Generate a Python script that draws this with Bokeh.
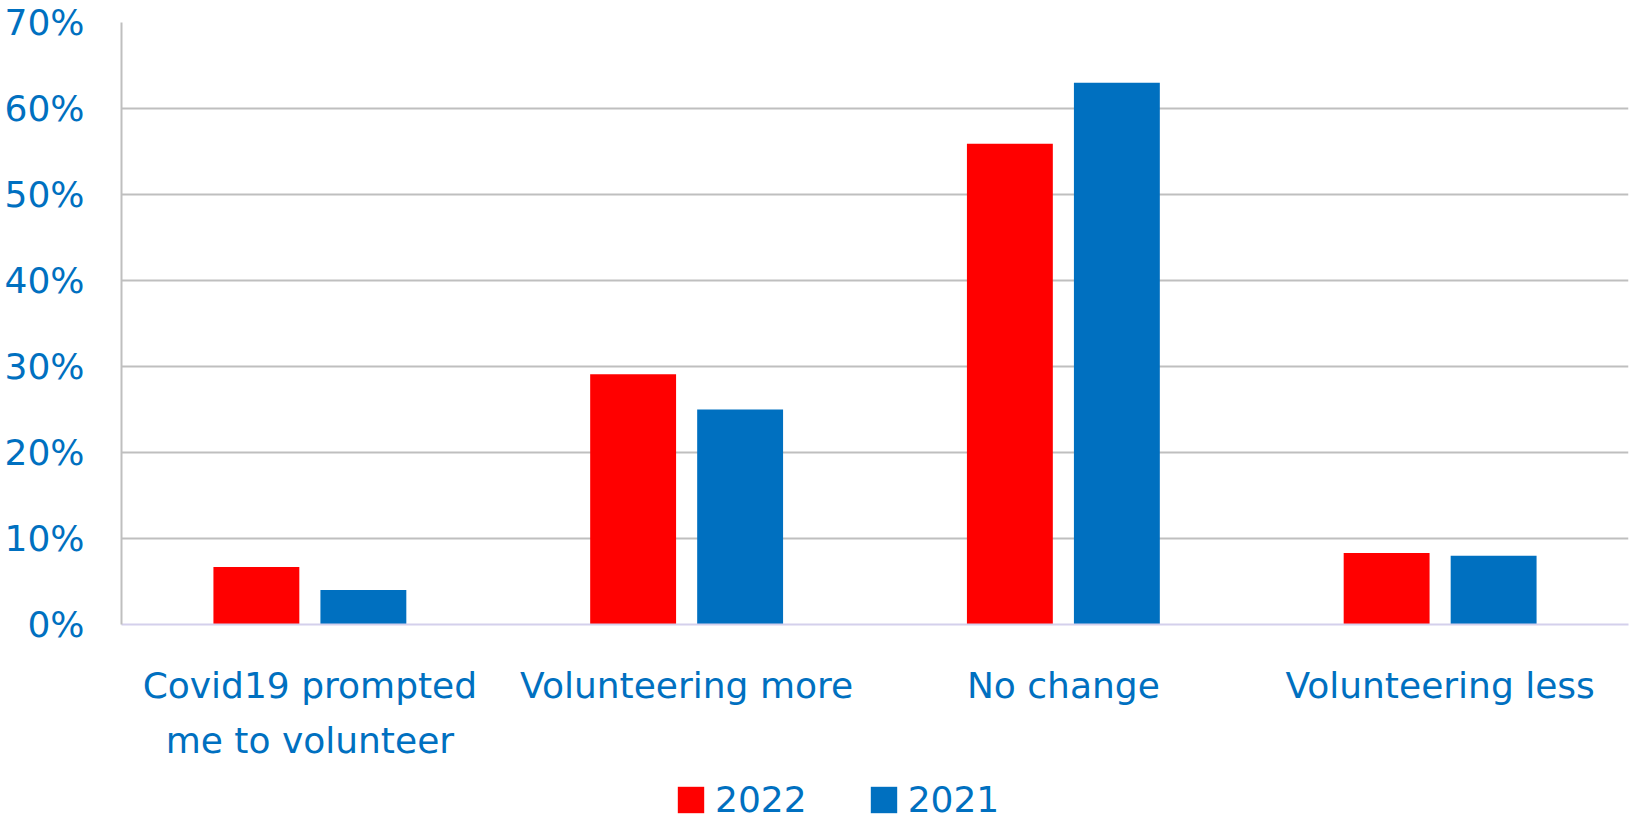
from bokeh.plotting import figure
from bokeh.layouts import column
from bokeh.models import (FactorRange, Legend, LegendItem, NumeralTickFormatter,
                          FixedTicker, ColumnDataSource)
from bokeh.transform import dodge
from bokeh.embed import file_html
from bokeh.resources import INLINE

categories = ["Covid19 prompted\nme to volunteer", "Volunteering more", "No change", "Volunteering less"]
series_names = ["2022", "2021"]
values_2022 = [0.067, 0.291, 0.559, 0.083]
values_2021 = [0.040, 0.250, 0.630, 0.080]
y_ticks = [0, 0.1, 0.2, 0.3, 0.4, 0.5, 0.6, 0.7]
colors = ["#FF0000", "#0070C0"]

TEXT = "#0070C0"
FONT = "DejaVu Sans"
FS = "36px"

src = ColumnDataSource(dict(cat=categories, v22=values_2022, v21=values_2021))

p = figure(width=1629, height=775, x_range=FactorRange(*categories), y_range=(0, 0.7),
           output_backend="svg", toolbar_location=None,
           min_border_left=121, min_border_right=1, min_border_top=22, min_border_bottom=151)
p.outline_line_color = None

p.vbar(x=dodge("cat", -0.142, range=p.x_range), top="v22", width=0.228, source=src,
       fill_color=colors[0], line_color=None)
p.vbar(x=dodge("cat", 0.142, range=p.x_range), top="v21", width=0.228, source=src,
       fill_color=colors[1], line_color=None)

p.yaxis.ticker = FixedTicker(ticks=y_ticks)
p.yaxis.formatter = NumeralTickFormatter(format="0%")
for ax in (p.xaxis, p.yaxis):
    ax.major_label_text_color = TEXT
    ax.major_label_text_font = FONT
    ax.major_label_text_font_size = FS
    ax.major_tick_line_color = None
    ax.minor_tick_line_color = None
p.yaxis.axis_line_color = "#BFBFBF"
p.yaxis.axis_line_width = 2
p.yaxis.major_label_standoff = 31
p.xaxis.axis_line_color = "#D4D0EC"
p.xaxis.axis_line_width = 2
p.xaxis.major_label_standoff = 34
p.xaxis.major_label_text_line_height = 1.35

p.xgrid.grid_line_color = None
p.ygrid.grid_line_color = "#BFBFBF"
p.ygrid.grid_line_width = 2

# legend strip below the chart (its swatch renderers sit outside the visible range)
lg = figure(width=1629, height=46, output_backend="svg", toolbar_location=None,
            min_border=0, x_range=(0, 1), y_range=(0, 1))
lg.axis.visible = False
lg.grid.visible = False
lg.outline_line_color = None
offscreen = ColumnDataSource(dict(x=[-10], top=[-10]))
d1 = lg.vbar(x="x", top="top", width=0.1, source=offscreen, fill_color=colors[0], line_color=None)
d2 = lg.vbar(x="x", top="top", width=0.1, source=offscreen, fill_color=colors[1], line_color=None)
legend = Legend(items=[LegendItem(label=series_names[0], renderers=[d1]),
                       LegendItem(label=series_names[1], renderers=[d2])],
                orientation="horizontal", location=(553, 1),
                glyph_width=33, glyph_height=33, label_standoff=8, spacing=60,
                label_text_font=FONT, label_text_font_size=FS, label_text_color=TEXT,
                label_height=27, border_line_color=None, background_fill_alpha=0,
                margin=0, padding=0)
lg.add_layout(legend, "center")

layout = column(p, lg, spacing=0)
open("out.html", "w").write(file_html(layout, INLINE))
